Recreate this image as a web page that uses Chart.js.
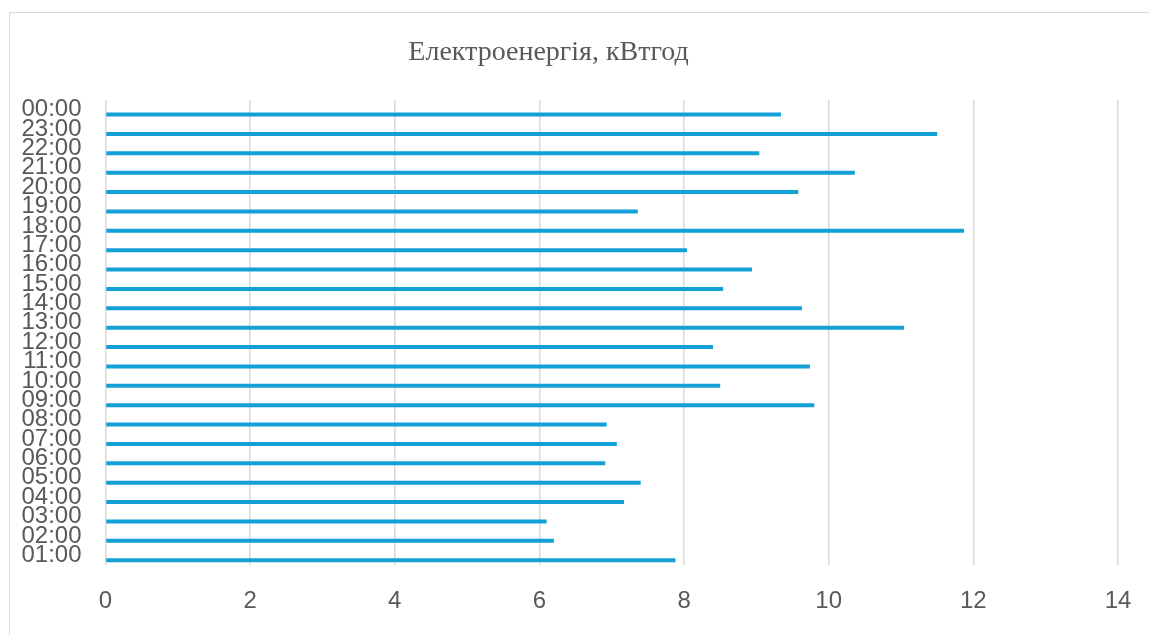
<!DOCTYPE html>
<html>
<head>
<meta charset="utf-8">
<script src="https://cdn.jsdelivr.net/npm/chart.js@4/dist/chart.umd.min.js"></script>
<style>
  html, body { margin: 0; padding: 0; background: #fff; overflow: hidden; }
  #wrap { position: relative; width: 1149px; height: 635px; }
  #frame { position: absolute; left: 9px; top: 12px; width: 1300px; height: 800px;
           border: 1.5px solid #d9d9d9; pointer-events: none; }
</style>
</head>
<body>
<div id="wrap">
  <canvas id="energyChart" width="1149" height="635"></canvas>
  <div id="frame"></div>
</div>
<script>
// hours, bottom to top
const hours = ["01:00", "02:00", "03:00", "04:00", "05:00", "06:00", "07:00", "08:00",
    "09:00", "10:00", "11:00", "12:00", "13:00", "14:00", "15:00", "16:00",
    "17:00", "18:00", "19:00", "20:00", "21:00", "22:00", "23:00", "00:00"];
// consumption per hour, kWh
const energy = [7.88, 6.20, 6.10, 7.17, 7.40, 6.91, 7.07, 6.93,
    9.80, 8.50, 9.74, 8.40, 11.04, 9.63, 8.54, 8.94,
    8.04, 11.87, 7.36, 9.58, 10.36, 9.04, 11.50, 9.34];
const xTicks = [0, 2, 4, 6, 8, 10, 12, 14];
const chartTitle = "Електроенергія, кВтгод";

const grey = "#595959";

// title drawn by hand so it can sit left of the plot centre
const titlePlugin = {
    id: "sheetTitle",
    afterDraw(chart) {
        const ctx = chart.ctx;
        ctx.save();
        ctx.font = "28px 'Liberation Serif', 'Times New Roman', serif";
        ctx.fillStyle = grey;
        ctx.textAlign = "center";
        ctx.textBaseline = "alphabetic";
        ctx.fillText(chartTitle, 548.5, 60);
        ctx.restore();
    }
};

const ctx = document.getElementById("energyChart").getContext("2d");
new Chart(ctx, {
    type: "bar",
    data: {
        labels: hours,
        datasets: [
            // empty series keeps the bars in the lower half of each row
            { data: hours.map(() => null), backgroundColor: "transparent" },
            { data: energy, backgroundColor: "#12a0d7" }
        ]
    },
    options: {
        indexAxis: "y",
        responsive: false,
        maintainAspectRatio: false,
        animation: false,
        categoryPercentage: 1,
        barPercentage: 0.41,
        layout: { padding: { left: 0, right: 31, top: 100, bottom: 0 } },
        plugins: {
            legend: { display: false },
            tooltip: { enabled: false },
            title: { display: false }
        },
        scales: {
            x: {
                min: 0,
                max: 14,
                afterBuildTicks: (axis) => { axis.ticks = xTicks.map(v => ({ value: v })); },
                afterFit: (axis) => {
                    axis.height = 70;
                    axis.paddingLeft = 0;
                    axis.paddingRight = 0;
                },
                grid: { color: "#d9d9d9", lineWidth: 1.5, drawTicks: false },
                border: { display: false },
                ticks: {
                    color: grey,
                    padding: 22,
                    font: { family: "'Liberation Sans', Arial, sans-serif", size: 24 }
                }
            },
            y: {
                reverse: true,
                afterFit: (axis) => { axis.width = 105.5; },
                grid: { display: false, drawTicks: false },
                border: { display: false },
                ticks: {
                    autoSkip: false,
                    color: grey,
                    padding: 24,
                    font: { family: "'Liberation Sans', Arial, sans-serif", size: 24, lineHeight: 1 }
                }
            }
        }
    },
    plugins: [titlePlugin]
});
</script>
</body>
</html>
